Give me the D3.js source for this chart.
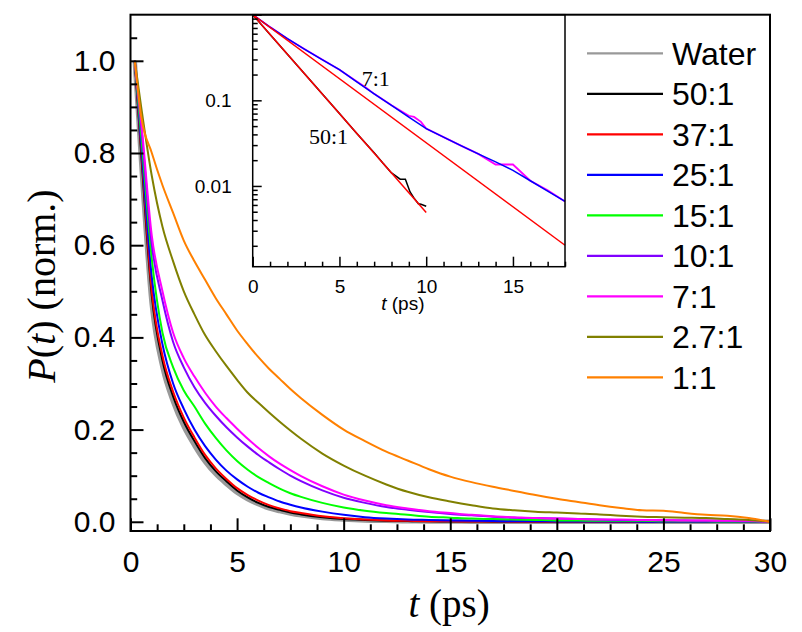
<!DOCTYPE html>
<html><head><meta charset="utf-8">
<script src="https://cdn.jsdelivr.net/npm/d3@7"></script>
<style>body{margin:0;background:#fff}svg{display:block}</style>
</head><body>
<svg id="c" width="802" height="632"></svg>
<script>
// ---------- data (main panel) ----------
const times = [0.2,0.5,1,1.5,2,2.5,3,3.5,4,4.5,5,5.5,6,6.5,7,7.5,8,9,10,11,12,13,14,15,16,17,18,19,20,21,22,23,24,25,26,27,28,29,30];
const water = [1.0,0.78,0.47,0.335,0.26,0.206,0.165,0.13,0.103,0.082,0.063,0.049,0.038,0.029,0.023,0.018,0.014,0.008,0.005,0.003,0.002,0.0012,0.0008,0.0005,0.0003,0.0002,0.0001,0.0001,0,0,0,0,0,0,0,0,0,0,0];
const r50 = [1.0,0.8,0.49,0.35,0.272,0.217,0.175,0.138,0.11,0.088,0.068,0.053,0.041,0.032,0.026,0.02,0.016,0.01,0.006,0.004,0.0025,0.0015,0.001,0.0007,0.0005,0.0003,0.0002,0.0001,0.0001,0,0,0,0,0,0,0,0,0,0];
const r37 = [1.0,0.81,0.5,0.36,0.282,0.226,0.183,0.145,0.116,0.093,0.073,0.058,0.046,0.036,0.029,0.023,0.019,0.012,0.0075,0.005,0.003,0.002,0.0013,0.0009,0.0006,0.0004,0.0003,0.0002,0.0001,0.0001,0,0,0,0,0,0,0,0,0];
const r25 = [1.0,0.82,0.53,0.385,0.3,0.245,0.2,0.164,0.135,0.111,0.092,0.076,0.063,0.053,0.044,0.037,0.031,0.022,0.015,0.01,0.007,0.005,0.004,0.003,0.002,0.0015,0.001,0.001,0.0008,0.0006,0.0005,0.0004,0.0003,0.0002,0.0002,0.0001,0.0001,0,0];
const r15 = [1.0,0.84,0.57,0.41,0.335,0.285,0.25,0.213,0.182,0.155,0.132,0.113,0.097,0.084,0.072,0.062,0.054,0.041,0.031,0.024,0.019,0.015,0.011,0.009,0.007,0.006,0.005,0.004,0.003,0.003,0.002,0.002,0.002,0.001,0.001,0.001,0.0005,0.0005,0];
const r10 = [1.0,0.86,0.6,0.48,0.39,0.335,0.292,0.258,0.23,0.205,0.183,0.163,0.145,0.129,0.114,0.1,0.088,0.068,0.052,0.041,0.032,0.026,0.021,0.017,0.014,0.011,0.009,0.008,0.007,0.006,0.005,0.004,0.004,0.003,0.003,0.002,0.002,0.001,0];
const r7 = [1.0,0.87,0.62,0.5,0.41,0.355,0.315,0.28,0.25,0.225,0.202,0.18,0.16,0.142,0.126,0.112,0.099,0.077,0.059,0.046,0.036,0.029,0.023,0.019,0.015,0.012,0.01,0.008,0.007,0.006,0.005,0.005,0.004,0.004,0.003,0.003,0.002,0.002,0];
const r27 = [1.0,0.9,0.75,0.64,0.565,0.5,0.45,0.405,0.37,0.338,0.308,0.28,0.258,0.237,0.217,0.198,0.18,0.148,0.122,0.1,0.081,0.065,0.053,0.044,0.036,0.029,0.025,0.022,0.02,0.018,0.016,0.013,0.011,0.01,0.009,0.008,0.006,0.004,0];
const r1 = [1.0,0.88,0.8,0.73,0.67,0.61,0.565,0.525,0.485,0.45,0.415,0.385,0.357,0.332,0.31,0.288,0.268,0.232,0.2,0.175,0.152,0.133,0.114,0.098,0.086,0.076,0.067,0.058,0.05,0.043,0.036,0.03,0.025,0.024,0.019,0.015,0.013,0.008,0];

const seriesNames = ["Water","50:1","37:1","25:1","15:1","10:1","7:1","2.7:1","1:1"];
const seriesColors = ["#999999","#000000","#ff0000","#0000ff","#00ff00","#8000ff","#ff00ff","#808000","#ff8000"];
const seriesValues = [water,r50,r37,r25,r15,r10,r7,r27,r1];

const xMajor = [0,5,10,15,20,25,30];
const yMajor = [0,0.2,0.4,0.6,0.8,1.0];

// ---------- data (inset, log scale) ----------
const insetFitT = [0,1,2,3,4,5,6,7,8,9,10,11,12,13,14,15,16,17,18];
const insetFit7 = [1.0,0.716,0.525,0.394,0.299,0.228,0.164,0.119,0.0871,0.0638,0.0467,0.0372,0.0296,0.0237,0.0191,0.0152,0.0115,0.0087,0.0066];
const insetT7 = [0,1,2,3,4,5,6,6.5,7,8,9,9.3,9.7,10,11,12,13,14,15,16,17,18];
const inset7 = [1.0,0.716,0.525,0.394,0.299,0.228,0.166,0.142,0.119,0.0875,0.066,0.064,0.056,0.0467,0.0372,0.0296,0.0237,0.0178,0.0178,0.0115,0.0089,0.0066];
const insetT50 = [0,1,2,3,4,5,6,7,7.5,8,8.5,8.8,9.07,9.3,9.55,9.7,10];
const inset50 = [1,0.587,0.345,0.203,0.119,0.07,0.041,0.0245,0.0185,0.0142,0.012,0.012,0.0085,0.0072,0.0062,0.0061,0.0058];
const expFit50T = [0,10], expFit50 = [1,0.00489];
const expFit7T = [0,18], expFit7 = [1,0.00203];
const insetXMajor = [0,5,10,15];
const insetYMajor = [1,0.1,0.01];

// ---------- drawing ----------
const svg = d3.select("#c");
const W = {l:130.5, r:770, t:14.7, b:531};
const x = d3.scaleLinear([0,30],[W.l,W.r]);
const y = d3.scaleLinear([-0.02,1.1],[W.b,W.t]);

const line = d3.line().x(d=>x(d[0])).y(d=>y(d[1])).curve(d3.curveMonotoneX);
seriesValues.forEach((vals,i)=>{
  svg.append("path")
    .attr("d", line(times.map((t,j)=>[t,vals[j]])))
    .attr("fill","none").attr("stroke",seriesColors[i])
    .attr("stroke-width", i===0?4.5:2).attr("stroke-linejoin","round");
});

const fontSans = "Arial, 'Liberation Sans', sans-serif";
const fontSerif = "'Times New Roman', 'Liberation Serif', serif";
const xMinor = d3.range(0,30.01,1.25).filter(v=>Math.abs(v%5)>1e-6);
const yMinor = d3.range(0,1.1,0.05).map(v=>+v.toFixed(2)).filter(v=>Math.abs(Math.round(v*10)-v*10)>1e-6 || Math.round(v*10)%2===1);

const gx = svg.append("g").attr("transform",`translate(0,${W.b})`)
  .call(d3.axisBottom(x).tickValues(xMajor).tickSizeInner(-12.7).tickSizeOuter(0).tickFormat(d3.format("d")));
svg.append("g").attr("transform",`translate(0,${W.b})`)
  .call(d3.axisBottom(x).tickValues(xMinor).tickSizeInner(-6.7).tickSizeOuter(0).tickFormat(""));
const gy = svg.append("g").attr("transform",`translate(${W.l},0)`)
  .call(d3.axisLeft(y).tickValues(yMajor).tickSizeInner(-13).tickSizeOuter(0).tickFormat(d3.format(".1f")));
svg.append("g").attr("transform",`translate(${W.l},0)`)
  .call(d3.axisLeft(y).tickValues(yMinor).tickSizeInner(-6.7).tickSizeOuter(0).tickFormat(""));
svg.selectAll(".domain").remove();
svg.selectAll(".tick line").attr("stroke","#000").attr("stroke-width",2);
gx.selectAll("text").attr("font-family",fontSans).attr("font-size",30).attr("fill","#000").attr("dy",0).attr("y",41);
gy.selectAll("text").attr("font-family",fontSans).attr("font-size",30).attr("fill","#000").attr("x",-15);

// inset
const I = {l:252.7, r:565, t:14.7, b:266.7};
svg.append("rect").attr("x",I.l).attr("y",I.t).attr("width",I.r-I.l).attr("height",I.b-I.t).attr("fill","#fff");
const xi = d3.scaleLinear([0,18],[I.l,I.r]);
const yi = d3.scaleLog([0.00114,1],[I.b,I.t]);
const lineI = d3.line().x(d=>xi(d[0])).y(d=>yi(d[1]));
const gIn = svg.append("g");
gIn.append("path").attr("d",lineI(insetT7.map((t,j)=>[t,inset7[j]]))).attr("fill","none").attr("stroke","#ff00ff").attr("stroke-width",1.8);
gIn.append("path").attr("d",lineI(insetFitT.map((t,j)=>[t,insetFit7[j]])).replace(/^/,"")).attr("fill","none").attr("stroke","#0000ff").attr("stroke-width",1.5);
gIn.append("path").attr("d",lineI(insetT50.map((t,j)=>[t,inset50[j]]))).attr("fill","none").attr("stroke","#000").attr("stroke-width",1.5);
gIn.append("path").attr("d",lineI(expFit50T.map((t,j)=>[t,expFit50[j]]))).attr("fill","none").attr("stroke","#ff0000").attr("stroke-width",1.5);
gIn.append("path").attr("d",lineI(expFit7T.map((t,j)=>[t,expFit7[j]]))).attr("fill","none").attr("stroke","#ff0000").attr("stroke-width",1.5);

const ixMinor = d3.range(0,18.01,1).filter(v=>v%5!==0);
const iyMinor = [];
[0.001,0.01,0.1].forEach(dec=>{for(let k=2;k<=9;k++){const v=dec*k; if(v>=0.00114 && v<1) iyMinor.push(v);}});
const gix = gIn.append("g").attr("transform",`translate(0,${I.b})`)
  .call(d3.axisBottom(xi).tickValues(insetXMajor).tickSizeInner(-10).tickSizeOuter(0).tickFormat(d3.format("d")));
gIn.append("g").attr("transform",`translate(0,${I.b})`)
  .call(d3.axisBottom(xi).tickValues(ixMinor).tickSizeInner(-5).tickSizeOuter(0).tickFormat(""));
const giy = gIn.append("g").attr("transform",`translate(${I.l},0)`)
  .call(d3.axisLeft(yi).tickValues(insetYMajor).tickSizeInner(-9).tickSizeOuter(0).tickFormat(d=>d===1?"":String(d)));
gIn.append("g").attr("transform",`translate(${I.l},0)`)
  .call(d3.axisLeft(yi).tickValues(iyMinor).tickSizeInner(-5).tickSizeOuter(0).tickFormat(""));
gIn.selectAll(".domain").remove();
gIn.selectAll(".tick line").attr("stroke","#000").attr("stroke-width",1.5);
gix.selectAll("text").attr("font-family",fontSans).attr("font-size",19).attr("fill","#000").attr("dy",0).attr("y",26.5);
giy.selectAll("text").attr("font-family",fontSans).attr("font-size",19).attr("fill","#000").attr("x",-21);
gIn.append("rect").attr("x",I.l).attr("y",I.t).attr("width",I.r-I.l).attr("height",I.b-I.t)
  .attr("fill","none").attr("stroke","#000").attr("stroke-width",1.5);
const itl = gIn.append("text").attr("x",(I.l+I.r)/2-6).attr("y",310).attr("text-anchor","middle")
  .attr("font-family",fontSans).attr("font-size",19);
itl.append("tspan").attr("font-style","italic").text("t");
itl.append("tspan").text(" (ps)");
gIn.append("text").attr("x",361.7).attr("y",85.7).attr("font-family",fontSerif).attr("font-size",22).text("7:1");
gIn.append("text").attr("x",309).attr("y",144).attr("font-family",fontSerif).attr("font-size",22).text("50:1");

// main frame
svg.append("rect").attr("x",W.l).attr("y",W.t).attr("width",W.r-W.l).attr("height",W.b-W.t)
  .attr("fill","none").attr("stroke","#000").attr("stroke-width",2);

// legend
const lg = svg.append("g");
seriesNames.forEach((n,i)=>{
  const yy = 53.3 + 40.5*i;
  lg.append("line").attr("x1",587).attr("x2",663).attr("y1",yy).attr("y2",yy)
    .attr("stroke",seriesColors[i]).attr("stroke-width",2.2);
  lg.append("text").attr("x",672).attr("y",yy).attr("dy","0.36em")
    .attr("font-family",fontSans).attr("font-size",32).attr("fill","#000").text(n);
});

// axis titles
const xt = svg.append("text").attr("x",449).attr("y",617).attr("text-anchor","middle")
  .attr("font-family",fontSerif).attr("font-size",39);
xt.append("tspan").attr("font-style","italic").text("t");
xt.append("tspan").text(" (ps)");
const yt = svg.append("text").attr("transform","translate(55,286) rotate(-90)").attr("text-anchor","middle")
  .attr("font-family",fontSerif).attr("font-size",40);
yt.append("tspan").attr("font-style","italic").text("P");
yt.append("tspan").text("(");
yt.append("tspan").attr("font-style","italic").text("t");
yt.append("tspan").text(") (norm.)");
</script>
</body></html>
